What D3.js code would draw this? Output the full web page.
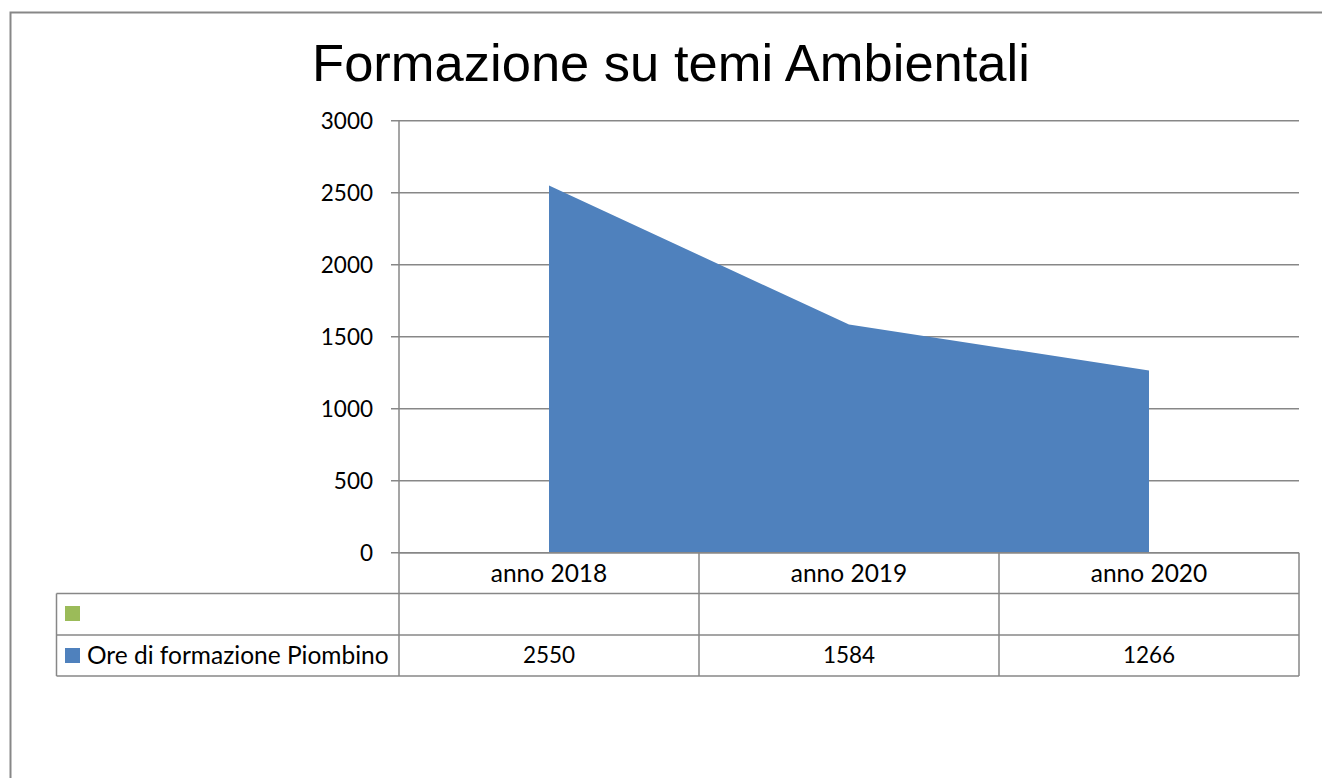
<!DOCTYPE html>
<html><head><meta charset="utf-8">
<script src="https://cdn.jsdelivr.net/npm/d3@7"></script>
<style>html,body{margin:0;padding:0;background:#fff;}svg{display:block;}</style>
</head><body>
<svg id="c" width="1322" height="778"></svg>
<script>
const title = "Formazione su temi Ambientali";
const categories = ["anno 2018", "anno 2019", "anno 2020"];
const seriesName = "Ore di formazione Piombino";
const values = [2550, 1584, 1266];
const emptySeriesName = "";
const yTicks = [0, 500, 1000, 1500, 2000, 2500, 3000];

const svg = d3.select("#c");
const grey = "#878787";
const font = "Lato, 'Open Sans', sans-serif";
const numSize = 22.5, wordSize = 24.5;

// outer frame
svg.append("path").attr("d", "M10.5,1000 V12.5 H1400")
  .attr("fill", "none").attr("stroke", grey).attr("stroke-width", 2);

svg.append("text").attr("x", 671).attr("y", 80.5).attr("text-anchor", "middle")
  .attr("font-family", "'Liberation Sans', Arial, sans-serif").attr("font-size", 52.5)
  .attr("fill", "#000").text(title);

const pLeft = 399, pRight = 1299, pTop = 120.7, pBottom = 552.7;
const x = d3.scaleBand().domain(categories).range([pLeft, pRight]);
const y = d3.scaleLinear().domain([0, 3000]).range([pBottom, pTop]);

// gridlines
svg.append("g").selectAll("line").data(yTicks).join("line")
  .attr("x1", pLeft - 8).attr("x2", pRight).attr("y1", d => y(d)).attr("y2", d => y(d))
  .attr("stroke", grey).attr("stroke-width", 1.5);

// area
const area = d3.area().x(d => x(d.c) + x.bandwidth() / 2).y0(y(0)).y1(d => y(d.v));
svg.append("path").datum(categories.map((c, i) => ({c, v: values[i]})))
  .attr("d", area).attr("fill", "#4F81BD");

// y axis labels
svg.append("g").selectAll("text").data(yTicks).join("text")
  .attr("x", 373).attr("y", d => y(d)).attr("dy", "0.35em").attr("text-anchor", "end")
  .attr("font-family", font).attr("font-size", numSize).attr("fill", "#000").text(d => d);

// y axis line
svg.append("line").attr("x1", pLeft).attr("x2", pLeft).attr("y1", pTop).attr("y2", 676)
  .attr("stroke", grey).attr("stroke-width", 1.5);

// data table
const rows = [552.7, 593.5, 635, 676];
const tLeft = 56.5;
const tg = svg.append("g");
tg.append("line").attr("x1", pLeft).attr("x2", pRight).attr("y1", rows[0]).attr("y2", rows[0]).attr("stroke", grey).attr("stroke-width", 1.5);
[rows[1], rows[2], rows[3]].forEach(r => tg.append("line").attr("x1", tLeft).attr("x2", pRight).attr("y1", r).attr("y2", r).attr("stroke", grey).attr("stroke-width", 1.5));
tg.append("line").attr("x1", tLeft).attr("x2", tLeft).attr("y1", rows[1]).attr("y2", rows[3]).attr("stroke", grey).attr("stroke-width", 1.5);
categories.forEach(c => {
  const xe = x(c) + x.bandwidth();
  tg.append("line").attr("x1", xe).attr("x2", xe).attr("y1", rows[0]).attr("y2", rows[3]).attr("stroke", grey).attr("stroke-width", 1.5);
});
tg.selectAll("text.cat").data(categories).join("text").attr("class", "cat")
  .attr("x", d => x(d) + x.bandwidth() / 2).attr("y", (rows[0] + rows[1]) / 2).attr("dy", "0.35em")
  .attr("text-anchor", "middle").attr("font-family", font).attr("font-size", wordSize).text(d => d);
tg.selectAll("text.val").data(values).join("text").attr("class", "val")
  .attr("x", (d, i) => x(categories[i]) + x.bandwidth() / 2).attr("y", (rows[2] + rows[3]) / 2).attr("dy", "0.35em")
  .attr("text-anchor", "middle").attr("font-family", font).attr("font-size", numSize).text(d => d);
tg.append("rect").attr("x", 65).attr("y", 606).attr("width", 15).attr("height", 15).attr("fill", "#9BBB59");
tg.append("text").attr("x", 87).attr("y", (rows[1] + rows[2]) / 2).attr("dy", "0.35em")
  .attr("font-family", font).attr("font-size", wordSize).text(emptySeriesName);
tg.append("rect").attr("x", 65).attr("y", 648).attr("width", 15).attr("height", 15).attr("fill", "#4F81BD");
tg.append("text").attr("x", 87).attr("y", (rows[2] + rows[3]) / 2).attr("dy", "0.35em")
  .attr("font-family", font).attr("font-size", wordSize).text(seriesName);
</script>
</body></html>
